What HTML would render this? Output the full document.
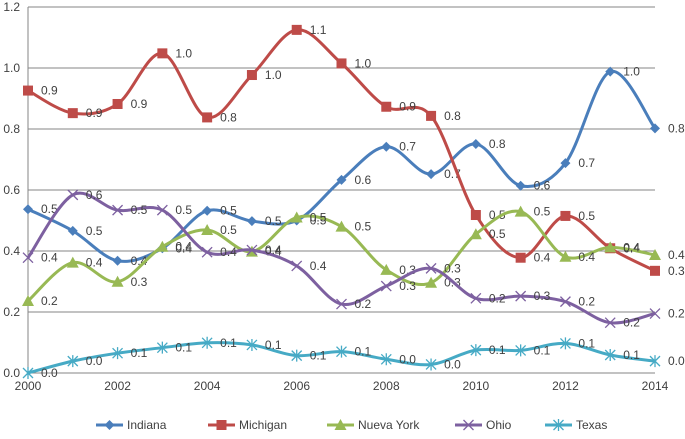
<!DOCTYPE html>
<html><head><meta charset="utf-8"><style>
body{margin:0;background:#fff}
svg{font-family:"Liberation Sans","DejaVu Sans",sans-serif}
</style></head><body>
<svg id="chart" width="685" height="434" viewBox="0 0 685 434" xmlns="http://www.w3.org/2000/svg"></svg>
<script>
const years=[2000,2001,2002,2003,2004,2005,2006,2007,2008,2009,2010,2011,2012,2013,2014];
const yTicks=[0,0.2,0.4,0.6,0.8,1.0,1.2];
const xTicks=[2000,2002,2004,2006,2008,2010,2012,2014];
const seriesNames=["Indiana","Michigan","Nueva York","Ohio","Texas"];
const indiana=[0.537,0.466,0.368,0.409,0.532,0.498,0.500,0.633,0.742,0.652,0.751,0.614,0.688,0.988,0.802];
const michigan=[0.926,0.852,0.882,1.048,0.838,0.977,1.125,1.015,0.873,0.843,0.518,0.378,0.515,0.409,0.335];
const nuevaYork=[0.236,0.362,0.299,0.414,0.469,0.398,0.510,0.480,0.338,0.296,0.455,0.529,0.381,0.412,0.387];
const ohio=[0.378,0.584,0.534,0.534,0.396,0.403,0.351,0.226,0.285,0.343,0.245,0.252,0.234,0.165,0.195];
const texas=[0.0,0.039,0.065,0.083,0.099,0.092,0.057,0.070,0.045,0.028,0.075,0.074,0.097,0.059,0.039];

const NS="http://www.w3.org/2000/svg";
const svg=document.getElementById('chart');
const X0=28,X1=655,Y0=373,Y1=7;
const xs=v=>X0+(v-2000)/(14)*(X1-X0);
const ys=v=>Y0-(v/1.2)*(Y0-Y1);
function mk(t,a,p){const e=document.createElementNS(NS,t);for(const k in a)e.setAttribute(k,a[k]);(p||svg).appendChild(e);return e;}

yTicks.forEach(t=>{
  const g=mk('line',{x1:X0,x2:X1,y1:ys(t),y2:ys(t),stroke:'#868686','stroke-width':1});
  
  
  const l=mk('text',{x:20,y:ys(t)+4,'text-anchor':'end','font-size':12,fill:'#404040'});
  l.textContent=t.toFixed(1);
  
  
});
const ax=mk('line',{x1:X0,x2:X0,y1:Y1,y2:Y0,stroke:'#868686','stroke-width':1});


xTicks.forEach(t=>{
  const l=mk('text',{x:xs(t),y:390,'text-anchor':'middle','font-size':12,fill:'#404040'});
  l.textContent=t;
  
  
});

const colors=["#4a7ebb","#be4b48","#98b954","#7d60a0","#46aac5"];
const data=[indiana,michigan,nuevaYork,ohio,texas];
const shapes=["diamond","square","triangle","x","star"];

function marker(g,s,x,y,c){
  if(s==="diamond")mk('path',{d:`M${x},${y-5}L${x+5},${y}L${x},${y+5}L${x-5},${y}Z`,fill:c},g);
  else if(s==="square")mk('rect',{x:x-5,y:y-5,width:10,height:10,fill:c},g);
  else if(s==="triangle")mk('path',{d:`M${x},${y-6}L${x+6},${y+5}L${x-6},${y+5}Z`,fill:c},g);
  else if(s==="x")mk('path',{d:`M${x-5},${y-5}L${x+5},${y+5}M${x-5},${y+5}L${x+5},${y-5}`,stroke:c,'stroke-width':1.3,fill:'none'},g);
  else mk('path',{d:`M${x-5},${y-5}L${x+5},${y+5}M${x-5},${y+5}L${x+5},${y-5}M${x},${y-6}L${x},${y+6}`,stroke:c,'stroke-width':1.3,fill:'none'},g);
}
function smooth(pts){
  let d=`M${pts[0][0]},${pts[0][1]}`;
  for(let i=0;i<pts.length-1;i++){
    const p0=pts[i-1]||pts[i],p1=pts[i],p2=pts[i+1],p3=pts[i+2]||p2;
    const c1=[p1[0]+(p2[0]-p0[0])/6,p1[1]+(p2[1]-p0[1])/6];
    const c2=[p2[0]-(p3[0]-p1[0])/6,p2[1]-(p3[1]-p1[1])/6];
    d+=`C${c1[0]},${c1[1]} ${c2[0]},${c2[1]} ${p2[0]},${p2[1]}`;
  }
  return d;
}
data.forEach((vals,si)=>{
  const g=mk('g',{});
  
  
  const pts=vals.map((v,i)=>[xs(years[i]),ys(v)]);
  mk('path',{d:smooth(pts),fill:'none',stroke:colors[si],'stroke-width':3},g);
  pts.forEach((p,i)=>{
    marker(g,shapes[si],p[0],p[1],colors[si]);
    const t=mk('text',{x:p[0]+13,y:p[1]+4,'font-size':12,fill:'#404040'},g);
    t.textContent=vals[i].toFixed(1);
    
    
  });
});

const legX=[96,208,327,455,545];
seriesNames.forEach((n,i)=>{
  const g=mk('g',{});
  
  
  mk('line',{x1:legX[i],x2:legX[i]+27,y1:425,y2:425,stroke:colors[i],'stroke-width':3},g);
  marker(g,shapes[i],legX[i]+13.5,425,colors[i]);
  const t=mk('text',{x:legX[i]+31,y:429,'font-size':12,fill:'#404040'},g);
  t.textContent=n;
});
</script>
</body></html>
